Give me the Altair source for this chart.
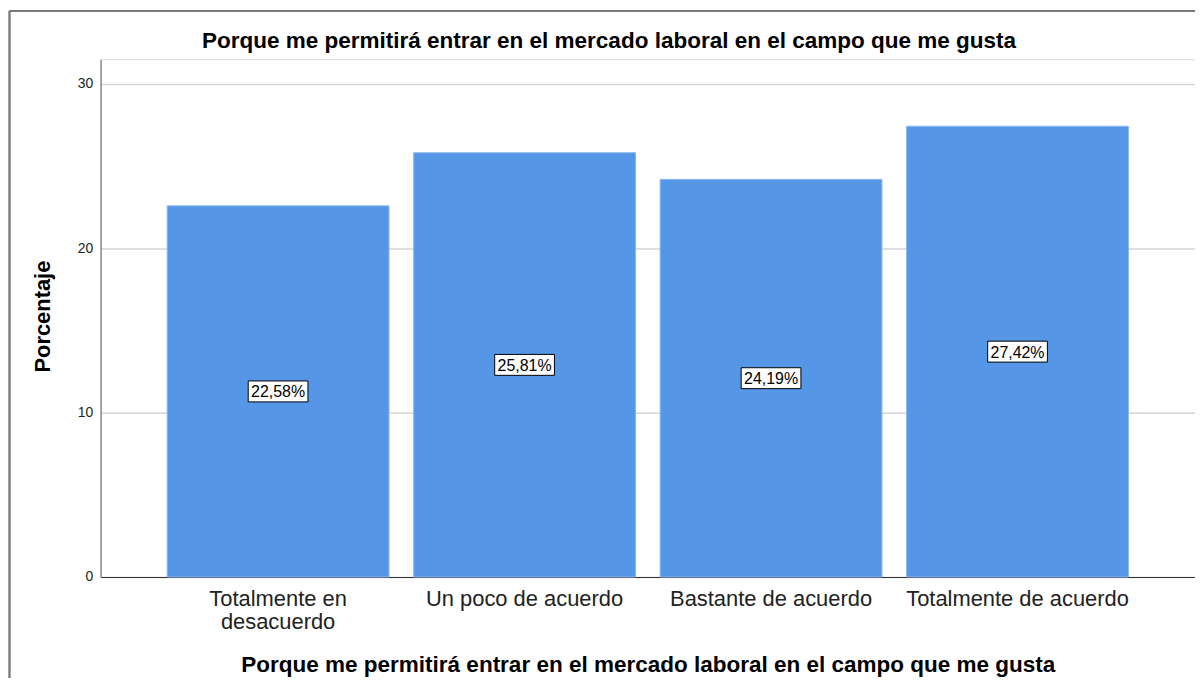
import altair as alt
import pandas as pd

categories = ["Totalmente en\ndesacuerdo", "Un poco de  acuerdo", "Bastante de  acuerdo", "Totalmente de  acuerdo"]
values = [22.58, 25.81, 24.19, 27.42]
labels = [f"{v:.2f}".replace(".", ",") + "%" for v in values]
y_ticks = [0, 10, 20, 30]

title_text = "Porque me permitirá entrar en el mercado laboral en el campo que me gusta"
FONT = "Liberation Sans"

df = pd.DataFrame({"cat": categories, "val": values, "lab": labels})
df["mid"] = df["val"] / 2

x_enc = alt.X(
    "cat:N",
    sort=categories,
    scale=alt.Scale(paddingInner=0.1, paddingOuter=0.27),
    axis=alt.Axis(
        title=title_text,
        labelAngle=0,
        labelExpr="split(datum.label, '\\n')",
        labelFontSize=22,
        labelColor="#222222",
        labelFont=FONT,
        labelLineHeight=23,
        labelPadding=12,
        labelLimit=0,
        ticks=False,
        domainColor="#333333",
        domainWidth=1.2,
        titleFont=FONT,
        titleFontSize=22.6,
        titleFontWeight="bold",
        titleColor="#000000",
        titleY=95,
        titleBaseline="alphabetic",
    ),
)

y_scale = alt.Scale(domain=[0, 31.5], nice=False)

bars = alt.Chart(df).mark_bar(color="#5596e6", stroke="#8cb8ee", strokeWidth=1).encode(
    x=x_enc,
    y=alt.Y(
        "val:Q",
        scale=y_scale,
        axis=alt.Axis(
            title="Porcentaje",
            values=y_ticks,
            ticks=False,
            labelPadding=8,
            labelFontSize=14,
            labelFont=FONT,
            labelColor="#222222",
            domainColor="#8c8c8c",
            domainWidth=1.5,
            grid=True,
            gridColor="#d6d6d6",
            gridWidth=1.5,
            titleFont=FONT,
            titleFontSize=22,
            titleFontWeight="bold",
            titleColor="#000000",
            titleX=-46,
            titleY=258,
            titleAngle=-90,
            titleAlign="center",
            titleBaseline="bottom",
        ),
    ),
)

boxes = alt.Chart(df).mark_point(
    shape="M-1,-0.35L1,-0.35L1,0.35L-1,0.35Z",
    filled=True,
    fill="white",
    stroke="black",
    strokeWidth=1,
    opacity=1,
    size=3600,
).encode(x=alt.X("cat:N", sort=categories), y=alt.Y("mid:Q", scale=y_scale))

texts = alt.Chart(df).mark_text(font=FONT, fontSize=16, color="black", baseline="middle", dy=1).encode(
    x=alt.X("cat:N", sort=categories), y=alt.Y("mid:Q", scale=y_scale), text="lab:N"
)

frame_left = alt.Chart(df).mark_rule(color="#7a7a7a", strokeWidth=1.5).encode(
    x=alt.value(-91.5), y=alt.value(-48.5), y2=alt.value(640)
)
frame_top = alt.Chart(df).mark_rule(color="#7a7a7a", strokeWidth=1.5).encode(
    x=alt.value(-91.5), x2=alt.value(1110), y=alt.value(-48.5)
)

chart = (
    alt.layer(bars, boxes, texts, frame_left, frame_top)
    .properties(
        width=1099,
        height=520,
        autosize=alt.AutoSizeParams(type="none"),
        padding={"left": 93, "top": 50, "right": 0, "bottom": 100},
        title=alt.TitleParams(
            text=title_text,
            font=FONT,
            fontSize=22.6,
            fontWeight="bold",
            color="#000000",
            anchor="middle",
            frame="group",
            baseline="alphabetic",
            dx=-39,
            offset=-61,
        ),
    )
    .configure_view(stroke=None)
    .configure(background="white")
)

chart.save("out.html", embed_options={"renderer": "svg", "actions": False})
